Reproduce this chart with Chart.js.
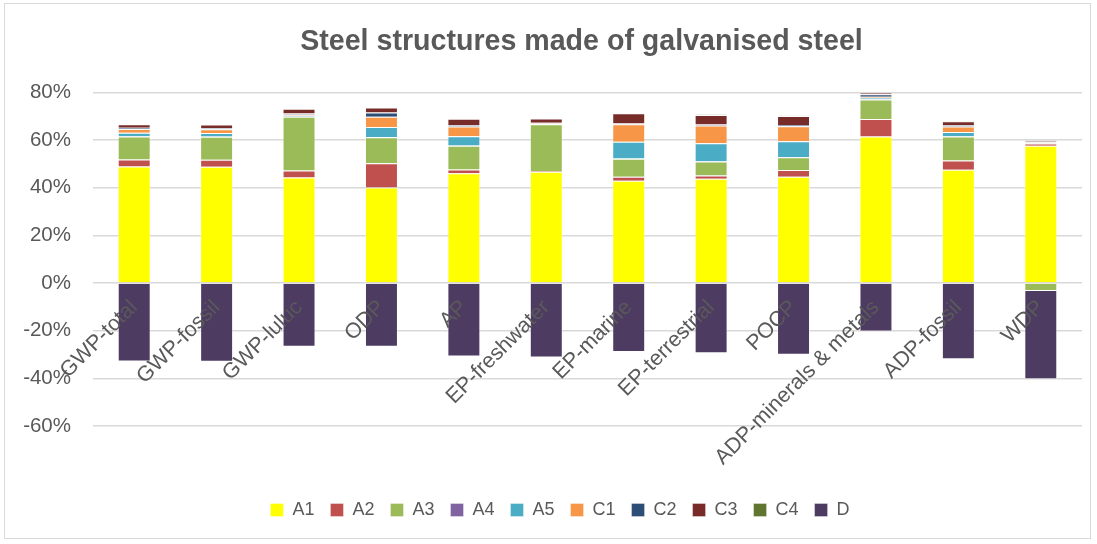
<!DOCTYPE html>
<html>
<head>
<meta charset="utf-8">
<script src="https://cdn.jsdelivr.net/npm/chart.js@4.4.1/dist/chart.umd.min.js"></script>
<style>
  body { margin: 0; background: #fff; }
  #wrap { position: relative; width: 1097px; height: 544px; }
  #frame { position: absolute; left: 4px; top: 3px; width: 1087px; height: 536px; border: 1px solid #d9d9d9; box-sizing: border-box; }
  #chart { position: absolute; left: 0; top: 0; }
</style>
</head>
<body>
<div id="wrap">
  <div id="frame"></div>
  <canvas id="chart" width="1097" height="544"></canvas>
</div>
<script>
// --- Data (percent of total impact) ---
const categories = ['GWP-total', 'GWP-fossil', 'GWP-luluc', 'ODP', 'AP', 'EP-freshwater', 'EP-marine',
    'EP-terrestrial', 'POCP', 'ADP-minerals & metals', 'ADP-fossil', 'WDP'];

const A1 = [48.9, 48.8, 44.3, 40.1, 46.0, 46.7, 42.9, 43.7, 44.6, 61.5, 47.5, 57.6];
const A2 = [2.9, 2.9, 2.9, 10.1, 1.6, 0.3, 1.7, 1.4, 2.8, 7.3, 3.9, 0.9];
const A3 = [9.7, 9.7, 22.6, 10.9, 10.0, 19.6, 7.5, 5.9, 5.4, 8.2, 10.1, -3.4];
const A4 = [0.1, 0.1, 0.1, 0.2, 0.1, 0.1, 0.1, 0.1, 0.1, 0.1, 0.1, 0.1];
const A5 = [1.4, 1.4, 0.4, 4.2, 3.9, 0.1, 7.1, 7.5, 6.6, 0.6, 1.8, 0.3];
const C1 = [1.6, 1.6, 0.4, 4.2, 4.1, 0.2, 7.3, 7.5, 6.3, 0.4, 2.3, 0.3];
const C2 = [0.5, 0.5, 0.4, 1.8, 0.5, 0.2, 0.3, 0.4, 0.5, 1.1, 0.5, 0.2];
const C3 = [1.5, 1.5, 2.0, 2.1, 2.7, 1.8, 4.3, 4.0, 3.8, 0.7, 1.7, 0.3];
const C4 = [0.1, 0.1, 0.1, 0.1, 0.1, 0.1, 0.1, 0.2, 0.1, 0.1, 0.1, 0.1];
const D  = [-32.9, -33.0, -26.7, -26.7, -30.8, -31.3, -29.0, -29.5, -30.1, -20.3, -32.0, -37.0];

const yTicks = [-60, -40, -20, 0, 20, 40, 60, 80];

const seriesNames  = ['A1', 'A2', 'A3', 'A4', 'A5', 'C1', 'C2', 'C3', 'C4', 'D'];
const seriesValues = [A1, A2, A3, A4, A5, C1, C2, C3, C4, D];
const seriesColors = ['#FFFF00', '#C0504D', '#9BBB59', '#8064A2', '#4BACC6',
    '#F79646', '#2C4D75', '#772C2A', '#5F7530', '#4D3B62'];

const TEXT = '#595959';
const FONT = "'Liberation Sans', Arial, sans-serif";

const datasets = seriesNames.map((name, i) => ({
    label: name,
    data: seriesValues[i],
    backgroundColor: seriesColors[i],
    borderColor: 'rgba(255,255,255,0.35)',
    borderWidth: 1,
    stack: 'all'
}));

// nudge title / legend to where Excel centred them
const nudgeBoxes = {
    id: 'nudgeBoxes',
    afterLayout(chart) {
        chart.legend.left += 9;
        chart.legend.right += 9;
        chart.titleBlock.left -= 6;
        chart.titleBlock.right -= 6;
    }
};

new Chart(document.getElementById('chart'), {
    type: 'bar',
    data: { labels: categories, datasets },
    plugins: [nudgeBoxes],
    options: {
        responsive: false,
        devicePixelRatio: 1,
        animation: false,
        categoryPercentage: 0.8,
        barPercentage: 0.5,
        layout: { padding: { left: 20, right: 15, top: 0, bottom: 15 } },
        plugins: {
            title: {
                display: true,
                text: 'Steel structures made of galvanised steel',
                color: TEXT,
                fullSize: false,
                font: { family: FONT, size: 28.6, weight: 'bold' },
                padding: { top: 25, bottom: 33 }
            },
            legend: {
                position: 'bottom',
                labels: {
                    color: TEXT,
                    font: { family: FONT, size: 18 },
                    boxWidth: 13,
                    boxHeight: 13,
                    padding: 16
                }
            },
            tooltip: { enabled: false }
        },
        scales: {
            x: {
                stacked: true,
                position: { y: 0 },
                grid: { display: false },
                border: { display: false },
                ticks: {
                    z: 1,
                    color: TEXT,
                    font: { family: FONT, size: 21.5 },
                    minRotation: 45,
                    maxRotation: 45,
                    autoSkip: false,
                    padding: 4
                }
            },
            xPad: {
                type: 'category',
                position: 'bottom',
                grid: { display: false },
                border: { display: false },
                ticks: { display: false },
                afterFit: (scale) => { scale.height = 59; }
            },
            y: {
                stacked: true,
                min: -60,
                max: 80,
                grid: { color: '#d9d9d9', lineWidth: 1.4, drawTicks: false },
                border: { display: false },
                afterBuildTicks: (scale) => { scale.ticks = yTicks.map(v => ({ value: v })); },
                afterFit: (scale) => { scale.width = 73; },
                ticks: {
                    color: TEXT,
                    font: { family: FONT, size: 20.5 },
                    padding: 22,
                    callback: (v) => v + '%'
                }
            }
        }
    }
});
</script>
</body>
</html>
